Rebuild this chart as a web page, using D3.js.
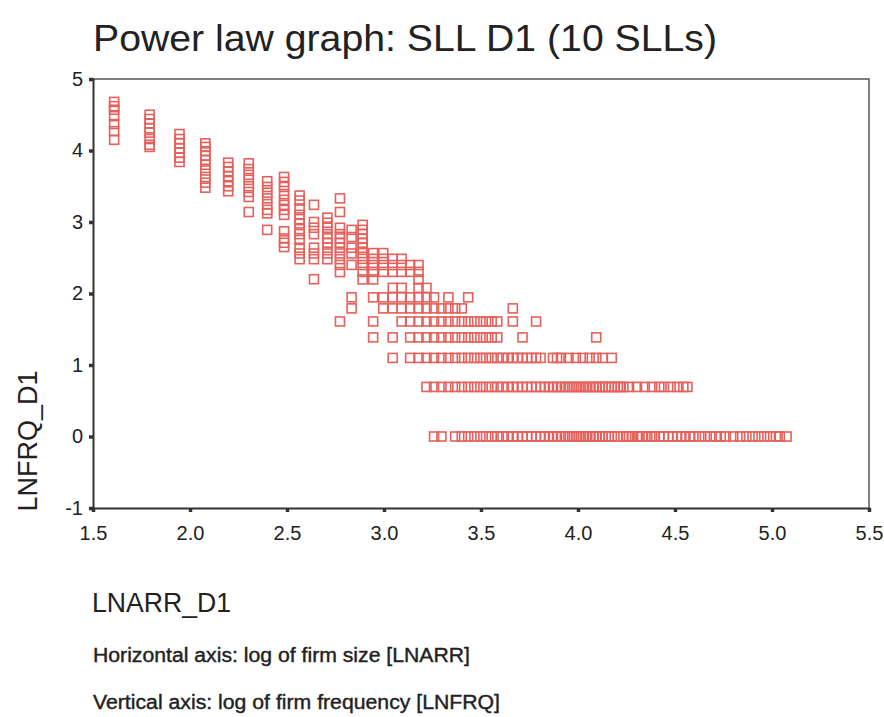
<!DOCTYPE html>
<html>
<head>
<meta charset="utf-8">
<script src="https://cdn.jsdelivr.net/npm/d3@7"></script>
<style>
  html, body { margin: 0; padding: 0; background: #fff; }
  svg { display: block; }
  text { font-family: "Liberation Sans", Arial, sans-serif; fill: #222; }
</style>
</head>
<body>
<svg id="chart" width="884" height="717"></svg>
<script>
// ---------------- data ----------------
const chartTitle = "Power law graph: SLL D1 (10 SLLs)";
const xLabel = "LNARR_D1";
const yLabel = "LNFRQ_D1";
const notes = ["Horizontal axis: log of firm size [LNARR]", "Vertical axis: log of firm frequency [LNFRQ]"];
const xTicks = [1.5, 2.0, 2.5, 3.0, 3.5, 4.0, 4.5, 5.0, 5.5];
const yTicks = [-1, 0, 1, 2, 3, 4, 5];

// upper part: one LNARR value per column, several LNFRQ values each
const colLnarr = [1.609, 1.792, 1.946, 2.079, 2.197, 2.303, 2.398, 2.485, 2.565, 2.639, 2.708, 2.773, 2.833, 2.890];
const colLnfrq = [
  [4.68, 4.62, 4.57, 4.48, 4.37, 4.27, 4.15],
  [4.50, 4.44, 4.38, 4.31, 4.25, 4.16, 4.08, 4.05],
  [4.23, 4.16, 4.10, 4.03, 3.97, 3.90, 3.84],
  [4.10, 4.05, 3.99, 3.93, 3.87, 3.80, 3.72, 3.63, 3.55, 3.48],
  [3.83, 3.77, 3.71, 3.64, 3.57, 3.50, 3.43],
  [3.82, 3.74, 3.66, 3.59, 3.50, 3.42, 3.35, 3.14],
  [3.57, 3.49, 3.41, 3.33, 3.25, 3.17, 3.12, 2.89],
  [3.63, 3.56, 3.49, 3.39, 3.31, 3.24, 3.17, 3.10, 2.87, 2.77, 2.71, 2.65],
  [3.37, 3.30, 3.19, 3.10, 3.04, 2.98, 2.90, 2.83, 2.75, 2.64, 2.56, 2.48],
  [3.24, 3.00, 2.92, 2.83, 2.64, 2.56, 2.48, 2.20],
  [3.06, 2.99, 2.92, 2.83, 2.77, 2.71, 2.64, 2.56, 2.48],
  [3.33, 3.14, 2.92, 2.83, 2.77, 2.71, 2.64, 2.56, 2.48, 2.40, 2.30],
  [2.89, 2.79, 2.64, 2.56, 2.40],
  [2.96, 2.89, 2.83, 2.77, 2.71, 2.64, 2.565, 2.485, 2.398, 2.303, 2.197]
];

// lower part: one LNFRQ level per row, several LNARR values each
const rowLnfrq = [2.565, 2.485, 2.398, 2.303, 2.197, 2.079, 1.946, 1.792, 1.609, 1.386, 1.099, 0.693, 0];
const rowLnarr = [
  [2.944, 2.996],
  [2.944, 2.996, 3.045, 3.091],
  [2.944, 2.996, 3.045, 3.091, 3.135, 3.178],
  [2.944, 2.996, 3.045, 3.091, 3.135, 3.178],
  [2.944, 3.178],
  [3.045, 3.091, 3.178, 3.219],
  [2.833, 2.944, 2.996, 3.045, 3.091, 3.135, 3.178, 3.219, 3.258, 3.332, 3.434],
  [2.833, 2.996, 3.045, 3.091, 3.135, 3.178, 3.219, 3.258, 3.296, 3.332, 3.367, 3.401, 3.664],
  [2.773, 2.944, 3.091, 3.135, 3.178, 3.219, 3.258, 3.296, 3.332, 3.367, 3.401, 3.434, 3.466, 3.497, 3.526, 3.555, 3.584, 3.664, 3.784],
  [2.944, 3.045, 3.135, 3.178, 3.219, 3.258, 3.296, 3.332, 3.367, 3.401, 3.434, 3.466, 3.497, 3.526, 3.555, 3.584, 3.714, 4.094],
  [3.045, 3.135, 3.178, 3.219, 3.258, 3.296, 3.332, 3.367, 3.401, 3.434, 3.466, 3.497, 3.526, 3.555, 3.584, 3.611, 3.638, 3.664, 3.689, 3.714, 3.738, 3.761, 3.784, 3.807, 3.871, 3.892, 3.912, 3.951, 3.989, 4.025, 4.060, 4.094, 4.127, 4.174],
  [3.219, 3.258, 3.296, 3.332, 3.367, 3.401, 3.434, 3.466, 3.497, 3.526, 3.555, 3.584, 3.611, 3.638, 3.664, 3.689, 3.714, 3.738, 3.761, 3.784, 3.807, 3.829, 3.850, 3.871, 3.892, 3.912, 3.932, 3.951, 3.970, 3.989, 4.007, 4.025, 4.043, 4.060, 4.078, 4.094, 4.111, 4.127, 4.143, 4.159, 4.174, 4.190, 4.205, 4.220, 4.234, 4.263, 4.304, 4.344, 4.382, 4.419, 4.443, 4.477, 4.511, 4.543, 4.564],
  [3.258, 3.296, 3.367, 3.401, 3.434, 3.466, 3.497, 3.526, 3.555, 3.584, 3.611, 3.638, 3.664, 3.689, 3.714, 3.738, 3.761, 3.784, 3.807, 3.829, 3.850, 3.871, 3.892, 3.912, 3.932, 3.951, 3.970, 3.989, 4.007, 4.025, 4.043, 4.060, 4.078, 4.094, 4.111, 4.127, 4.143, 4.159, 4.174, 4.205, 4.234, 4.248, 4.263, 4.277, 4.304, 4.317, 4.331, 4.357, 4.382, 4.394, 4.419, 4.443, 4.466, 4.489, 4.511, 4.533, 4.554, 4.575, 4.595, 4.625, 4.654, 4.682, 4.710, 4.736, 4.762, 4.800, 4.836, 4.868, 4.900, 4.930, 4.960, 4.990, 5.020, 5.040, 5.075]
];

// ---------------- chart ----------------
const svg = d3.select("#chart");
const x = d3.scaleLinear().domain([1.5, 5.5]).range([93, 869]);
const y = d3.scaleLinear().domain([-1, 5]).range([508, 79]);

const points = [];
colLnarr.forEach((xv, i) => colLnfrq[i].forEach(yv => points.push([xv, yv])));
rowLnfrq.forEach((yv, i) => rowLnarr[i].forEach(xv => points.push([xv, yv])));

// frame (top & right)
svg.append("path")
  .attr("d", `M${x(1.5)},${y(5)}H${x(5.5)}V${y(-1)}`)
  .attr("fill", "none").attr("stroke", "#555").attr("stroke-width", 1.5);

// markers
const s = 9;
svg.append("g").selectAll("rect").data(points).join("rect")
  .attr("x", d => x(d[0]) - s / 2)
  .attr("y", d => y(d[1]) - s / 2)
  .attr("width", s).attr("height", s)
  .attr("fill", "none")
  .attr("stroke", "#e4615c")
  .attr("stroke-width", 1.6);

// axes
const xAxis = svg.append("g").attr("transform", `translate(0,${y(-1)})`)
  .call(d3.axisBottom(x).tickValues(xTicks).tickFormat(d3.format(".1f")).tickSizeOuter(0).tickSize(4).tickPadding(14));
const yAxis = svg.append("g").attr("transform", `translate(${x(1.5)},0)`)
  .call(d3.axisLeft(y).tickValues(yTicks).tickFormat(d => String(d)).tickSizeOuter(0).tickSize(4).tickPadding(6));
[xAxis, yAxis].forEach(g => {
  g.select(".domain").attr("stroke", "#333").attr("stroke-width", 2);
  g.selectAll(".tick line").attr("stroke", "#333").attr("stroke-width", 3.5);
  g.selectAll(".tick text").attr("font-size", 20).attr("fill", "#222")
    .attr("font-family", '"Liberation Sans", Arial, sans-serif');
});

// title & labels
svg.append("text").attr("x", 93).attr("y", 51).attr("font-size", 37)
  .attr("textLength", 624).attr("lengthAdjust", "spacingAndGlyphs").attr("fill", "#2a2a2a").text(chartTitle);
svg.append("text").attr("transform", "translate(37,441) rotate(-90)")
  .attr("text-anchor", "middle").attr("font-size", 27).text(yLabel);
svg.append("text").attr("x", 92).attr("y", 612).attr("font-size", 27)
  .attr("textLength", 139).attr("lengthAdjust", "spacingAndGlyphs").text(xLabel);
svg.append("text").attr("x", 93).attr("y", 662).attr("font-size", 20)
  .attr("stroke", "#222").attr("stroke-width", 0.4)
  .attr("textLength", 377).attr("lengthAdjust", "spacingAndGlyphs").text(notes[0]);
svg.append("text").attr("x", 93).attr("y", 709).attr("font-size", 20)
  .attr("stroke", "#222").attr("stroke-width", 0.4)
  .attr("textLength", 407).attr("lengthAdjust", "spacingAndGlyphs").text(notes[1]);
</script>
</body>
</html>
